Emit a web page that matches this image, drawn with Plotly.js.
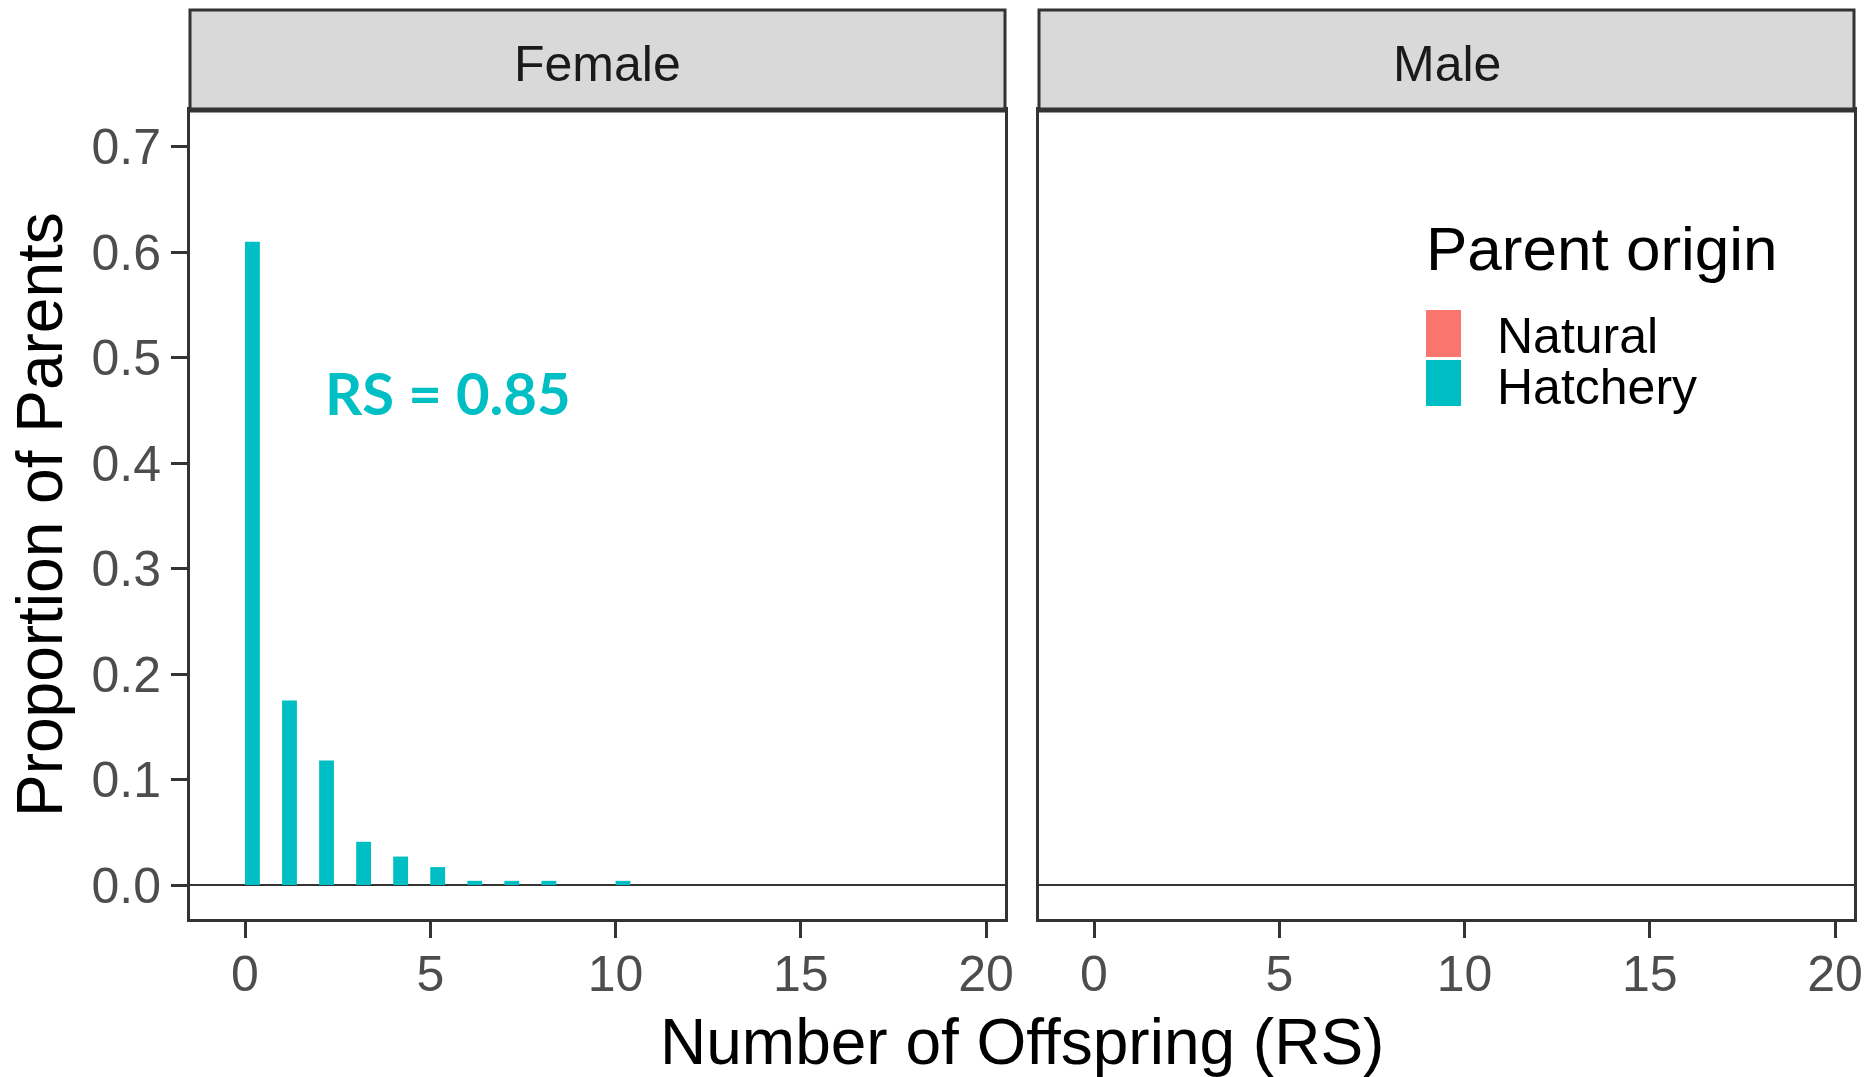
<!DOCTYPE html>
<html>
<head>
<meta charset="utf-8">
<script src="https://cdn.plot.ly/plotly-3.0.1.min.js"></script>
<style>html,body{margin:0;padding:0;background:#fff;}#chart{width:1869px;height:1077px;}</style>
</head>
<body>
<div id="chart"></div>
<script>
// ---- data ----
const offspring = [0, 1, 2, 3, 4, 5, 6, 7, 8, 9, 10];
const hatcheryFemale = [0.61, 0.175, 0.118, 0.041, 0.027, 0.017, 0.004, 0.004, 0.004, 0, 0.004];
const maleOffspring = [];   // Male panel shows no bars
const maleValues = [];
const panels = ["Female", "Male"];
const origins = ["Natural", "Hatchery"];
const originColors = ["#F8766D", "#00BFC4"];
const xTicks = [0, 5, 10, 15, 20];
const yTicks = [0, 0.1, 0.2, 0.3, 0.4, 0.5, 0.6, 0.7];
const yTickText = ["0.0", "0.1", "0.2", "0.3", "0.4", "0.5", "0.6", "0.7"];
const rsLabel = "RS = 0.85";

// ---- geometry helpers (pixel -> paper) ----
const W = 1869, H = 1077;
const px = v => v / W;
const py = v => 1 - v / H;

const FONT = "Liberation Sans, Arial, sans-serif";
const lineCol = "#333333";

const traces = [{
  type: "bar",
  name: origins[1],
  x: offspring,
  y: hatcheryFemale,
  offset: 0,
  width: 0.4,
  marker: {color: originColors[1], line: {width: 0}},
  xaxis: "x", yaxis: "y",
  showlegend: false,
  hoverinfo: "x+y"
}, {
  type: "bar",
  name: origins[1] + " (Male)",
  x: maleOffspring,
  y: maleValues,
  offset: 0,
  width: 0.4,
  marker: {color: originColors[1], line: {width: 0}},
  xaxis: "x2", yaxis: "y2",
  showlegend: false
}];

const xCommon = {
  range: [-1.485, 20.51],
  tickmode: "array", tickvals: xTicks, ticktext: xTicks.map(String),
  ticks: "outside", ticklen: 16, tickwidth: 3, tickcolor: lineCol,
  tickfont: {family: FONT, size: 50, color: "#4D4D4D"},
  ticklabelstandoff: -7,
  showgrid: false, zeroline: false,
  showline: true, mirror: true, linecolor: lineCol, linewidth: 3,
  fixedrange: true
};
const yCommon = {
  range: [-0.0322, 0.7348],
  tickmode: "array", tickvals: yTicks, ticktext: yTickText,
  showgrid: false,
  zeroline: true, zerolinecolor: lineCol, zerolinewidth: 2,
  showline: true, mirror: true, linecolor: lineCol, linewidth: 3,
  tickfont: {family: FONT, size: 50, color: "#4D4D4D"},
  fixedrange: true
};

const fLeft = 190, fRight = 1005, mLeft = 1039, mRight = 1854;
const pTop = 110, pBottom = 919, sTop = 10;

const layout = {
  width: W, height: H,
  margin: {l: 0, r: 0, t: 0, b: 0, pad: 0},
  paper_bgcolor: "#ffffff", plot_bgcolor: "#ffffff",
  showlegend: false,
  xaxis: Object.assign({}, xCommon, {domain: [px(fLeft), px(fRight)], anchor: "y"}),
  xaxis2: Object.assign({}, xCommon, {domain: [px(mLeft), px(mRight)], anchor: "y2"}),
  yaxis: Object.assign({}, yCommon, {domain: [py(pBottom), py(pTop)], anchor: "x",
    ticks: "outside", ticklen: 16, tickwidth: 3, tickcolor: lineCol}),
  yaxis2: Object.assign({}, yCommon, {domain: [py(pBottom), py(pTop)], anchor: "x2",
    showticklabels: false, ticks: ""}),
  shapes: [
    // strips
    {type: "rect", xref: "paper", yref: "paper", x0: px(fLeft), x1: px(fRight), y0: py(pTop), y1: py(sTop),
     fillcolor: "#D9D9D9", line: {color: lineCol, width: 3}, layer: "above"},
    {type: "rect", xref: "paper", yref: "paper", x0: px(mLeft), x1: px(mRight), y0: py(pTop), y1: py(sTop),
     fillcolor: "#D9D9D9", line: {color: lineCol, width: 3}, layer: "above"},
    // thicker strip/panel junction
    {type: "line", xref: "paper", yref: "paper", x0: px(fLeft), x1: px(fRight), y0: py(pTop), y1: py(pTop),
     line: {color: lineCol, width: 5}, layer: "above"},
    {type: "line", xref: "paper", yref: "paper", x0: px(mLeft), x1: px(mRight), y0: py(pTop), y1: py(pTop),
     line: {color: lineCol, width: 5}, layer: "above"},
    // legend keys
    {type: "rect", xref: "paper", yref: "paper", x0: px(1426), x1: px(1461), y0: py(357), y1: py(310),
     fillcolor: originColors[0], line: {width: 0}},
    {type: "rect", xref: "paper", yref: "paper", x0: px(1426), x1: px(1461), y0: py(406), y1: py(360),
     fillcolor: originColors[1], line: {width: 0}}
  ],
  annotations: [
    {text: panels[0], xref: "paper", yref: "paper", x: px((fLeft + fRight) / 2), y: py(64),
     xanchor: "center", yanchor: "middle", showarrow: false,
     font: {family: FONT, size: 50, color: "#1A1A1A"}},
    {text: panels[1], xref: "paper", yref: "paper", x: px((mLeft + mRight) / 2), y: py(64),
     xanchor: "center", yanchor: "middle", showarrow: false,
     font: {family: FONT, size: 50, color: "#1A1A1A"}},
    {text: "Number of Offspring (RS)", xref: "paper", yref: "paper", x: px((fLeft + mRight) / 2), y: py(1042),
     xanchor: "center", yanchor: "middle", showarrow: false,
     font: {family: FONT, size: 64, color: "#000000"}},
    {text: "Proportion of Parents", xref: "paper", yref: "paper", x: px(40), y: py(515),
     xanchor: "center", yanchor: "middle", textangle: -90, showarrow: false,
     font: {family: FONT, size: 64, color: "#000000"}},
    {text: "Parent origin", xref: "paper", yref: "paper", x: px(1424), y: py(248),
     xanchor: "left", yanchor: "middle", showarrow: false,
     font: {family: FONT, size: 62, color: "#000000"}},
    {text: origins[0], xref: "paper", yref: "paper", x: px(1495), y: py(336),
     xanchor: "left", yanchor: "middle", showarrow: false,
     font: {family: FONT, size: 50, color: "#000000"}},
    {text: origins[1], xref: "paper", yref: "paper", x: px(1495), y: py(387),
     xanchor: "left", yanchor: "middle", showarrow: false,
     font: {family: FONT, size: 50, color: "#000000"}},
    {text: "<b>" + rsLabel + "</b>", xref: "x", yref: "y", x: 5.48, y: 0.4665,
     xanchor: "center", yanchor: "middle", showarrow: false,
     font: {family: "Lato, Open Sans, sans-serif", size: 58, color: originColors[1]}}
  ]
};

Plotly.newPlot("chart", traces, layout, {displayModeBar: false, staticPlot: true});
</script>
</body>
</html>
